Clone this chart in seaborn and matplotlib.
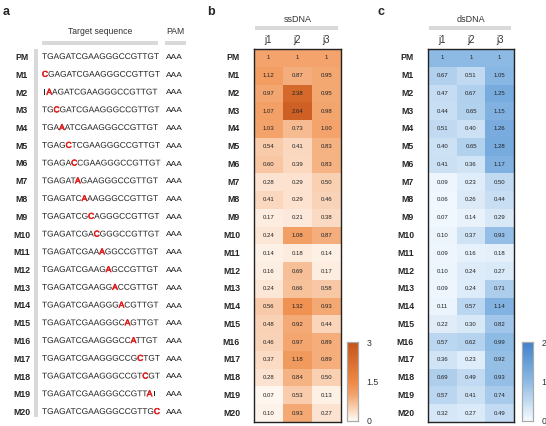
import numpy as np
import pandas as pd
import matplotlib
matplotlib.use("Agg")
import matplotlib.pyplot as plt
import matplotlib.patheffects as pe
import seaborn as sns
from matplotlib.colors import LinearSegmentedColormap
from matplotlib import font_manager
from matplotlib.ft2font import FT2Font
from matplotlib import _text_helpers

# ---- data ----
rows = ["PM"] + [f"M{i}" for i in range(1, 21)]
cols = ["j1", "j2", "j3"]
pm_seq = "TGAGATCGAAGGGCCGTTGT"
pam = "AAA"
mut_base = ["C", "A", "C", "A", "C", "C", "A", "A", "C", "C",
            "A", "A", "A", "A", "A", "A", "C", "C", "A", "C"]

ss_j1 = [1, 1.12, 0.97, 1.07, 1.03, 0.54, 0.60, 0.28, 0.41, 0.17, 0.24,
         0.14, 0.16, 0.24, 0.56, 0.48, 0.46, 0.37, 0.28, 0.07, 0.10]
ss_j2 = [1, 0.87, 2.38, 2.64, 0.73, 0.41, 0.39, 0.29, 0.29, 0.21, 1.08,
         0.18, 0.69, 0.66, 1.32, 0.92, 0.97, 1.18, 0.84, 0.53, 0.93]
ss_j3 = [1, 0.95, 0.95, 0.98, 1.00, 0.83, 0.83, 0.50, 0.46, 0.38, 0.87,
         0.14, 0.17, 0.58, 0.93, 0.44, 0.89, 0.89, 0.50, 0.13, 0.27]

ds_j1 = [1, 0.67, 0.47, 0.44, 0.51, 0.40, 0.41, 0.09, 0.06, 0.07, 0.10,
         0.09, 0.10, 0.09, 0.11, 0.22, 0.57, 0.36, 0.69, 0.57, 0.32]
ds_j2 = [1, 0.51, 0.67, 0.65, 0.40, 0.65, 0.36, 0.23, 0.26, 0.14, 0.37,
         0.16, 0.24, 0.24, 0.57, 0.30, 0.62, 0.23, 0.49, 0.41, 0.27]
ds_j3 = [1, 1.05, 1.25, 1.15, 1.26, 1.28, 1.17, 0.50, 0.44, 0.29, 0.93,
         0.18, 0.27, 0.71, 1.14, 0.82, 0.99, 0.92, 0.93, 0.74, 0.49]

ss_df = pd.DataFrame({"j1": ss_j1, "j2": ss_j2, "j3": ss_j3}, index=rows)
ds_df = pd.DataFrame({"j1": ds_j1, "j2": ds_j2, "j3": ds_j3}, index=rows)

sns.set_style("white")
plt.rcParams["font.family"] = ["Liberation Sans", "DejaVu Sans"]

W, H = 546, 426
DPI = 100
fig = plt.figure(figsize=(W / DPI, H / DPI), dpi=DPI)


def px_axes(x0, y0, x1, y1):
    # pixel box (top-left origin) -> figure axes
    return fig.add_axes([x0 / W, 1 - y1 / H, (x1 - x0) / W, (y1 - y0) / H])


def labels_for(df):
    lab = df.map(lambda v: f"{v:.2f}")
    lab.iloc[0] = "1"
    return lab.values


GREY = "#d9d9d9"
BLACK = "#222222"
RED = "#e02020"
SEQ_FS = 6.0

# glyph advances (unhinted, same layout the path renderer uses)
seq_font = FT2Font(font_manager.findfont(font_manager.FontProperties(family="Liberation Sans")))
seq_font.set_size(100, 72)


def glyph_x_px(s):
    xs = [item.x for item in _text_helpers.layout(s, seq_font)]
    return [x * SEQ_FS / 100 * DPI / 72 for x in xs]


# ---- panel a ----
ax_a = px_axes(0, 0, 200, H)
ax_a.set_xlim(0, 200)
ax_a.set_ylim(H, 0)
ax_a.axis("off")
ax_a.text(3, 12, "a", fontsize=9, fontweight="bold", va="center")
ax_a.text(100, 31, "Target sequence", fontsize=6.2, ha="center", va="center", color="#333333")
ax_a.text(175, 31, "PAM", fontsize=6.2, ha="center", va="center", color="#333333")
ax_a.add_patch(plt.Rectangle((42, 41), 116, 4, color=GREY, lw=0))
ax_a.add_patch(plt.Rectangle((165, 41), 21, 4, color=GREY, lw=0))
ax_a.add_patch(plt.Rectangle((34, 49), 3.5, 368, color=GREY, lw=0))

row_y0, row_dy = 57.5, 17.75
x_seq = 42
normal = [pe.Normal()]
for i, name in enumerate(rows):
    y = row_y0 + i * row_dy
    ax_a.text(22, y, name, fontsize=6.3, fontweight="bold", ha="center", va="center")
    ax_a.text(166, y, pam, fontsize=SEQ_FS, ha="left", va="center", color=BLACK)
    if i == 0:
        ax_a.text(x_seq, y, pm_seq, fontsize=SEQ_FS, ha="left", va="center", color=BLACK,
                  path_effects=normal)
        continue
    base = mut_base[i - 1]
    pre = pm_seq[:i - 1]
    post = pm_seq[i:]
    gx = glyph_x_px(pre + base + post)
    if pre:
        ax_a.text(x_seq, y, pre, fontsize=SEQ_FS, ha="left", va="center", color=BLACK,
                  path_effects=normal)
    ax_a.text(x_seq + gx[i - 1], y, base, fontsize=SEQ_FS, ha="left", va="center", color=RED,
              path_effects=[pe.withStroke(linewidth=0.45, foreground=RED)])
    if post:
        ax_a.text(x_seq + gx[i], y, post, fontsize=SEQ_FS, ha="left", va="center", color=BLACK,
                  path_effects=normal)

# ---- heatmaps ----
cmap_or = LinearSegmentedColormap.from_list(
    "or", [(0, "#fffbf7"), (0.33, "#f3a46c"), (0.5, "#ee8844"), (1, "#c4541c")])
cmap_bl = LinearSegmentedColormap.from_list(
    "bl", [(0, "#f7fbff"), (0.5, "#8dbae4"), (1, "#3f82cc")])

panels = [
    ("b", "ssDNA", ss_df, cmap_or, 3, [0, 1.5, 3], ["0", "1.5", "3"], 254, 341, 347, 207),
    ("c", "dsDNA", ds_df, cmap_bl, 2, [0, 1, 2], ["0", "1", "2"], 428, 514, 522, 378),
]
for letter, title, df, cmap, vmax, cticks, clabels, x0, x1, cx, lx in panels:
    ax = px_axes(x0, 49, x1, 422)
    cax = px_axes(cx, 342, cx + 11, 421)
    sns.heatmap(df, ax=ax, cbar_ax=cax, cmap=cmap, vmin=0, vmax=vmax,
                annot=labels_for(df), fmt="", annot_kws={"fontsize": 4.3, "color": BLACK})
    for sp in ax.spines.values():
        sp.set_visible(True)
        sp.set_linewidth(1.0)
        sp.set_color(BLACK)
    ax.set_xlabel("")
    ax.set_ylabel("")
    ax.xaxis.tick_top()
    ax.tick_params(length=0)
    ax.tick_params(axis="x", pad=3, labelsize=7, colors="#333333")
    ax.tick_params(axis="y", pad=10, labelsize=6.3)
    ax.set_yticklabels(rows, rotation=0, fontweight="bold")
    ax.set_xticklabels(cols, rotation=0)

    cax.set_yticks(cticks)
    cax.set_yticklabels(clabels)
    cax.tick_params(length=0, pad=6, labelsize=6.3, colors="#333333")
    for sp in cax.spines.values():
        sp.set_visible(True)
        sp.set_color("#aaaaaa")
        sp.set_linewidth(0.8)

    fig.text(lx / W, 1 - 12 / H, letter, fontsize=9, fontweight="bold", va="center")
    fig.text((x0 + x1) / 2 / W, 1 - 19 / H, title, fontsize=6.5, ha="center",
             va="center", color="#333333")
    fig.patches.append(plt.Rectangle(((x0 + 1) / W, 1 - 30 / H),
                                     (x1 - x0 - 4) / W, 4 / H, transform=fig.transFigure,
                                     color=GREY, lw=0, figure=fig))

fig.savefig("out.png", dpi=DPI)
